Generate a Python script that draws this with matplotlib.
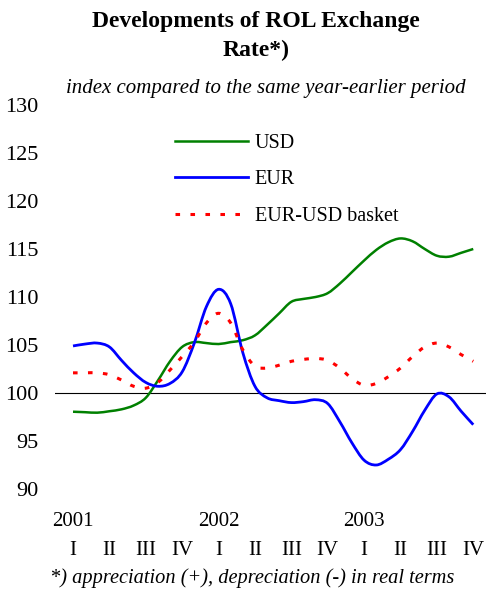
import matplotlib
matplotlib.use("Agg")
import matplotlib.pyplot as plt
from matplotlib.path import Path
from matplotlib.patches import PathPatch
from matplotlib.lines import Line2D
import numpy as np

# monthly observations, Jan 2001 .. Oct 2003 (x in quarter units)
usd = [98.05, 98.0, 97.95, 98.1, 98.3, 98.7, 99.5, 101.3, 103.3, 104.8, 105.3, 105.2,
       105.1, 105.3, 105.5, 106.0, 107.1, 108.3, 109.5, 109.8, 110.0, 110.4, 111.4, 112.6,
       113.8, 114.9, 115.7, 116.1, 115.8, 115.0, 114.3, 114.2, 114.6, 115.0]
eur = [104.9, 105.1, 105.2, 104.8, 103.4, 102.1, 101.1, 100.7, 101.0, 102.2, 105.2, 109.0,
       110.8, 109.3, 104.2, 100.7, 99.5, 99.2, 99.0, 99.1, 99.3, 98.9, 97.0, 94.8,
       93.0, 92.5, 93.1, 94.1, 96.0, 98.2, 99.9, 99.6, 98.1, 96.7]
basket = [102.1, 102.1, 102.1, 101.9, 101.35, 100.7, 100.5, 101.1, 102.4, 103.8, 105.3, 107.3,
          108.3, 107.3, 104.5, 102.8, 102.6, 102.9, 103.3, 103.5, 103.6, 103.4, 102.6, 101.5,
          100.8, 101.0, 101.7, 102.6, 103.8, 104.8, 105.2, 104.8, 104.0, 103.3]
quarters = ["I", "II", "III", "IV"] * 3
years = ["2001", "2002", "2003"]
series_names = ["USD", "EUR", "EUR-USD basket"]

plt.rcParams['font.family'] = ['Liberation Serif', 'DejaVu Serif']

W, H = 486, 594
fig = plt.figure(figsize=(W / 100, H / 100), dpi=100)

def fx(px):
    return px / W

def fy(py):
    return 1 - py / H

ax = fig.add_axes([fx(55), fy(489), fx(486) - fx(55), fy(105) - fy(489)])
t = np.arange(len(usd)) / 3.0


def smooth_path(x, y):
    """Catmull-Rom curve through the points, as cubic Bezier segments."""
    P = np.column_stack([x, y]).astype(float)
    Pext = np.vstack([P[0], P, P[-1]])
    verts = [P[0]]
    codes = [Path.MOVETO]
    for i in range(len(P) - 1):
        p0, p1, p2, p3 = Pext[i], Pext[i + 1], Pext[i + 2], Pext[i + 3]
        c1 = p1 + (p2 - p0) / 6.0
        c2 = p2 - (p3 - p1) / 6.0
        verts += [c1, c2, p2]
        codes += [Path.CURVE4] * 3
    return Path(verts, codes)


styles = [
    dict(color="#008000", lw=1.8, ls="-"),
    dict(color="#0000FF", lw=2.0, ls="-"),
    dict(color="#FF0000", lw=2.2, ls=(0, (1.5, 3.4))),
]
handles = []
for vals, st, name in zip([usd, eur, basket], styles, series_names):
    patch = PathPatch(smooth_path(t, vals), fill=False, edgecolor=st["color"],
                      lw=st["lw"], linestyle=st["ls"], capstyle="butt", zorder=3)
    ax.add_patch(patch)
    handles.append(Line2D([], [], color=st["color"], lw=st["lw"], linestyle=st["ls"],
                          label=name))

ax.axhline(100, color="black", lw=0.8, zorder=1)

ax.set_xlim(-0.495, 11.35)
ax.set_ylim(90, 130)
ax.set_yticks(np.arange(90, 131, 5))
ax.tick_params(axis="y", length=0, pad=12, labelsize=16)
ax.set_xticks(np.arange(12))
ax.set_xticklabels(quarters)
ax.tick_params(axis="x", length=0, pad=37.5, labelsize=15)
for s in ax.spines.values():
    s.set_visible(False)

for i, y in enumerate(years):
    ax.text(4 * i, -0.085, y, transform=ax.get_xaxis_transform(), ha="center",
            va="center", fontsize=15)

leg = ax.legend(handles=handles, loc="upper left",
                bbox_to_anchor=((167 - 55) / (486 - 55), 0.945),
                frameon=False, fontsize=14.5, handlelength=3.6, handletextpad=0.35,
                labelspacing=0.85, borderaxespad=0)

fig.text(fx(256), fy(22), "Developments of ROL Exchange", ha="center", va="center",
         fontsize=17, fontweight="bold")
fig.text(fx(256), fy(50), "Rate*)", ha="center", va="center", fontsize=17, fontweight="bold")
fig.text(fx(266), fy(89), "index compared to the same year-earlier period", ha="center",
         va="center", fontsize=15, style="italic")
fig.text(fx(252), fy(578), "*) appreciation (+), depreciation (-) in real terms", ha="center",
         va="center", fontsize=14.7, style="italic")

fig.savefig("out.png", dpi=100)
